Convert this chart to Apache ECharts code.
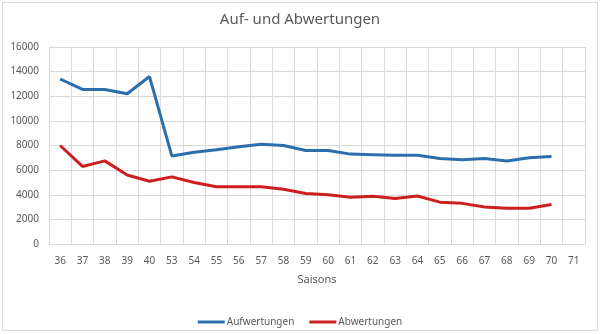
<!DOCTYPE html>
<html><head><meta charset="utf-8">
<script src="https://cdn.jsdelivr.net/npm/echarts@6/dist/echarts.min.js"></script>
<style>html,body{margin:0;padding:0;background:#fff}#c{width:600px;height:334px}</style>
</head><body><div id="c"></div>
<script>
const categories = ['36','37','38','39','40','53','54','55','56','57','58','59','60','61','62','63','64','65','66','67','68','69','70','71'];
const aufwertungen = [13400,12550,12550,12200,13600,7150,7450,7650,7900,8100,8000,7600,7600,7300,7250,7200,7200,6950,6850,6950,6750,7000,7100,null];
const abwertungen = [8000,6300,6750,5600,5100,5450,5000,4650,4650,4650,4450,4100,4000,3800,3880,3700,3900,3400,3300,3000,2900,2900,3200,null];
const FONT = 'Noto Sans';
const chart = echarts.init(document.getElementById('c'));
chart.setOption({
  backgroundColor: '#fff',
  animation: false,
  title: {text: 'Auf- und Abwertungen', left: 'center', top: 7,
    textStyle: {fontFamily: FONT, fontSize: 15, fontWeight: 'normal', color: '#595959'}},
  graphic: [{type: 'rect', shape: {x: 2.5, y: 2.5, width: 595, height: 328},
    style: {fill: 'none', stroke: '#d9d9d9', lineWidth: 1}, silent: true}],
  grid: {left: 49, right: 15, top: 47, bottom: 90},
  legend: {bottom: 2, left: 'center', icon: 'rect', itemWidth: 27, itemHeight: 3, itemGap: 15,
    textStyle: {fontFamily: FONT, fontSize: 10, color: '#595959', padding: [0,0,0,-3]}},
  xAxis: {type: 'category', data: categories, boundaryGap: true,
    name: 'Saisons', nameLocation: 'middle', nameGap: 30,
    nameTextStyle: {fontFamily: FONT, fontSize: 11, color: '#595959'},
    axisLine: {show: true, lineStyle: {color: '#d9d9d9'}},
    axisTick: {show: false},
    axisLabel: {fontFamily: FONT, fontSize: 10, color: '#595959', margin: 12, interval: 0},
    splitLine: {show: true, interval: 0, lineStyle: {color: '#d9d9d9'}}},
  yAxis: {type: 'value', min: 0, max: 16000, interval: 2000,
    axisLine: {show: true, lineStyle: {color: '#d9d9d9'}},
    axisLabel: {fontFamily: FONT, fontSize: 10, color: '#595959', margin: 10,
      formatter: v => String(v)},
    splitLine: {lineStyle: {color: '#d9d9d9'}}},
  series: [
    {name: 'Aufwertungen', type: 'line', data: aufwertungen, showSymbol: false, symbol: 'none',
      lineStyle: {width: 3, color: '#2a6fab'}, itemStyle: {color: '#2a6fab'}},
    {name: 'Abwertungen', type: 'line', data: abwertungen, showSymbol: false, symbol: 'none',
      lineStyle: {width: 3, color: '#cc1f1f'}, itemStyle: {color: '#cc1f1f'}}
  ]
});
</script></body></html>
